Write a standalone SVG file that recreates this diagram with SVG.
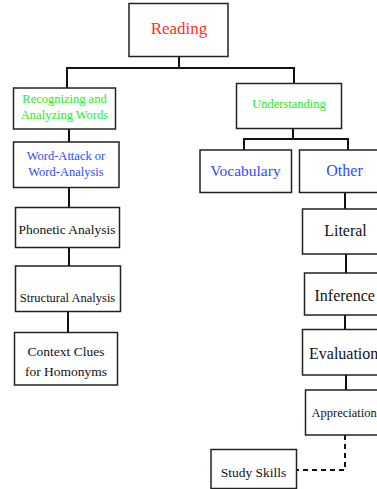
<svg xmlns="http://www.w3.org/2000/svg" width="377" height="489" viewBox="0 0 377 489">
  <style>
    .box { fill: #ffffff; stroke: #222222; stroke-width: 1.5; }
    .lbl { font-family: "Liberation Serif", "Times New Roman", serif; text-anchor: middle; fill: #111111; }
    .left { text-anchor: start; }
    .red { fill: #ff3020; }
    .green { fill: #22ee22; }
    .blue { fill: #2a4dff; }
    .wire { fill: none; stroke: #111111; stroke-width: 2; }
    .dash { fill: none; stroke: #111111; stroke-width: 2; stroke-dasharray: 5 4; }
  </style>
  <rect width="377" height="489" fill="#ffffff"/>

  <g id="connectors">
    <path class="wire" d="M179 57 V68 M67 68 H294 M67 67 V88 M294 67 V83"/>
    <path class="wire" d="M293 128 V139 M244 139 H348 M244 138 V150 M348 138 V150"/>
    <path class="wire" d="M69 129 V142 M69 187 V207 M69 247 V266 M68 311 V332"/>
    <path class="wire" d="M345 192 V209 M346 254 V273 M345 315 V329 M346 375 V390"/>
    <path class="dash" d="M345 426 V470 H297"/>
  </g>

  <g id="reading">
    <rect class="box" x="129" y="3.5" width="99" height="53"/>
    <text class="lbl red" x="179" y="34" font-size="17">Reading</text>
  </g>

  <g id="recognizing">
    <rect class="box" x="13.5" y="88" width="102" height="41"/>
    <text class="lbl green" x="64.5" y="103" font-size="12.5">Recognizing and</text>
    <text class="lbl green" x="64.5" y="119" font-size="12.5">Analyzing Words</text>
  </g>

  <g id="understanding">
    <rect class="box" x="236.5" y="83.5" width="105" height="45"/>
    <text class="lbl green" x="289" y="108" font-size="12.5">Understanding</text>
  </g>

  <g id="word-attack">
    <rect class="box" x="13.5" y="142" width="105.5" height="45.5"/>
    <text class="lbl blue" x="66" y="160" font-size="12.5">Word-Attack or</text>
    <text class="lbl blue" x="66" y="176" font-size="12.5">Word-Analysis</text>
  </g>

  <g id="phonetic">
    <rect class="box" x="15.5" y="207.5" width="104" height="40"/>
    <text class="lbl" x="67" y="234" font-size="13.5">Phonetic Analysis</text>
  </g>

  <g id="structural">
    <rect class="box" x="15.5" y="266" width="105" height="45.5"/>
    <text class="lbl" x="67.5" y="302" font-size="12.5">Structural Analysis</text>
  </g>

  <g id="context-clues">
    <rect class="box" x="14.5" y="332.5" width="103" height="52.5"/>
    <text class="lbl" x="66" y="356" font-size="13.5">Context Clues</text>
    <text class="lbl" x="66" y="376" font-size="13.5">for Homonyms</text>
  </g>

  <g id="vocabulary">
    <rect class="box" x="200" y="150" width="91.5" height="42.5"/>
    <text class="lbl blue" x="245.5" y="176" font-size="15.5">Vocabulary</text>
  </g>

  <g id="other">
    <rect class="box" x="299.5" y="150" width="90" height="42.5"/>
    <text class="lbl blue" x="344.5" y="176" font-size="16">Other</text>
  </g>

  <g id="literal">
    <rect class="box" x="302.5" y="209" width="86" height="45"/>
    <text class="lbl" x="345.5" y="236" font-size="16">Literal</text>
  </g>

  <g id="inference">
    <rect class="box" x="304.5" y="273" width="86" height="42"/>
    <text class="lbl left" x="314.5" y="301" font-size="16">Inference</text>
  </g>

  <g id="evaluation">
    <rect class="box" x="302.5" y="329.5" width="88" height="45.5"/>
    <text class="lbl left" x="309" y="359" font-size="16">Evaluation</text>
  </g>

  <g id="appreciation">
    <rect class="box" x="305.5" y="390" width="86" height="45"/>
    <text class="lbl left" x="311.5" y="417" font-size="12.5">Appreciation</text>
  </g>

  <g id="study-skills">
    <rect class="box" x="211" y="449.5" width="85.5" height="39"/>
    <text class="lbl" x="253.5" y="477" font-size="13.5">Study Skills</text>
  </g>
</svg>
